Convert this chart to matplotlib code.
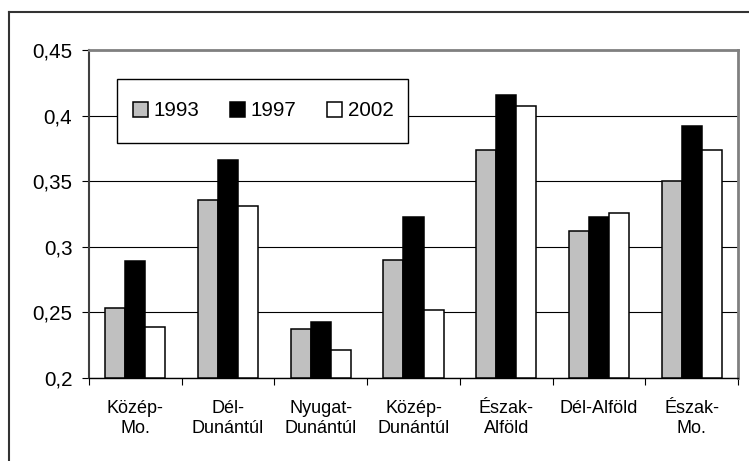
import numpy as np
import matplotlib
matplotlib.use('Agg')
import matplotlib.pyplot as plt
from matplotlib.lines import Line2D
from matplotlib.patches import Rectangle

plt.rcParams['font.family'] = ['Liberation Sans', 'DejaVu Sans']

# data
regions = ['Közép-\nMo.', 'Dél-\nDunántúl', 'Nyugat-\nDunántúl', 'Közép-\nDunántúl',
           'Észak-\nAlföld', 'Dél-Alföld', 'Észak-\nMo.']
years = ['1993', '1997', '2002']
v1993 = [0.253, 0.336, 0.237, 0.290, 0.374, 0.312, 0.350]
v1997 = [0.289, 0.366, 0.243, 0.323, 0.416, 0.323, 0.392]
v2002 = [0.239, 0.331, 0.221, 0.252, 0.407, 0.326, 0.374]
yticks = [0.2, 0.25, 0.3, 0.35, 0.4, 0.45]
ytick_labels = ['0,2', '0,25', '0,3', '0,35', '0,4', '0,45']

W, H = 749, 461
fig = plt.figure(figsize=(W / 100, H / 100), dpi=100)

# outer chart border (only left and top edges visible in the reference)
fig.add_artist(Line2D([9 / W, 9 / W], [0, 1 - 12 / H], color='#333333', lw=1.5))
fig.add_artist(Line2D([9 / W, 1], [1 - 12 / H, 1 - 12 / H], color='#333333', lw=1.5))

ax = fig.add_axes([89 / W, (H - 378) / H, 649 / W, 328 / H])

x = np.arange(len(regions))
bw = 0.216
colors = ['#c0c0c0', '#000000', '#ffffff']
series = [v1993, v1997, v2002]
for i, (vals, col, lab) in enumerate(zip(series, colors, years)):
    ax.bar(x + (i - 1) * bw, np.array(vals) - 0.2, bw, bottom=0.2, color=col,
           edgecolor='black', linewidth=1.1, label=lab, zorder=3)

ax.set_ylim(0.2, 0.45)
ax.set_xlim(-0.5, len(regions) - 0.5)
ax.set_yticks(yticks)
ax.set_yticklabels(ytick_labels, fontsize=14.8)
ax.yaxis.grid(True, color='black', linewidth=0.8, zorder=0)
ax.set_axisbelow(True)

ax.set_xticks(x)
ax.set_xticklabels(regions, fontsize=13, linespacing=1.2)
ax.set_xticks(np.arange(-0.5, len(regions), 1), minor=True)
ax.tick_params(axis='x', which='major', length=0, pad=16)
ax.tick_params(axis='x', which='minor', length=5, width=0.8, color='black')
ax.tick_params(axis='y', length=5, width=0.8, pad=7, color='black')

ax.spines['left'].set_color('#404040')
ax.spines['left'].set_linewidth(1.5)
ax.spines['bottom'].set_color('black')
ax.spines['bottom'].set_linewidth(1.0)
for s in ['top', 'right']:
    ax.spines[s].set_color('#808080')
    ax.spines[s].set_linewidth(2)

# legend box
box = Rectangle((117 / W, 1 - 143 / H), 291 / W, 64 / H, transform=fig.transFigure,
                facecolor='white', edgecolor='black', linewidth=1.0, zorder=4)
ax.add_patch(box)
box.set_clip_on(False)
leg = ax.legend(ncol=3, loc='center', bbox_to_anchor=(263 / W, 1 - 111 / H),
                bbox_transform=fig.transFigure, fontsize=14.8, frameon=False,
                handlelength=0.75, handleheight=0.75, handletextpad=0.25,
                columnspacing=1.5, borderpad=0.2)
leg.set_zorder(5)

fig.savefig('out.png', dpi=100)
